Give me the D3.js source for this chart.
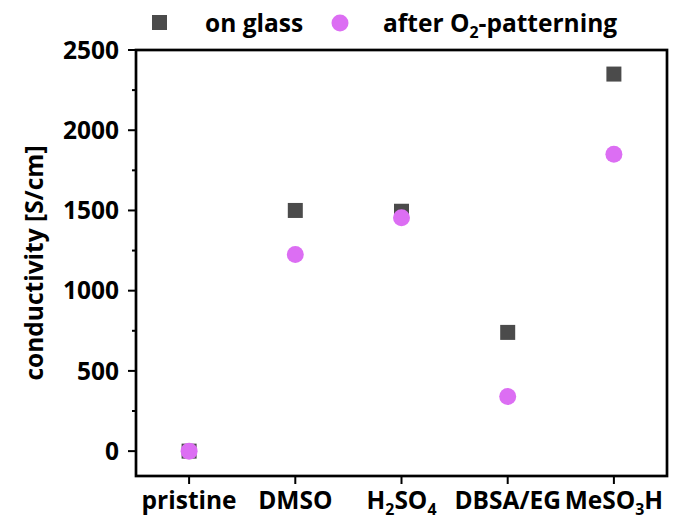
<!DOCTYPE html>
<html>
<head>
<meta charset="utf-8">
<script src="https://cdn.jsdelivr.net/npm/d3@7"></script>
<style>
  body { margin: 0; background: #fff; }
  svg { display: block; }
  text { font-family: "Open Sans", Lato, sans-serif; font-weight: 700; fill: #000; }
</style>
</head>
<body>
<svg id="chart" width="685" height="522"></svg>
<script>
const categories = ["pristine", "DMSO", "H2SO4", "DBSA/EG", "MeSO3H"];
const categoryLabels = [
  [["pristine", null]],
  [["DMSO", null]],
  [["H", null], ["2", "sub"], ["SO", null], ["4", "sub"]],
  [["DBSA/EG", null]],
  [["MeSO", null], ["3", "sub"], ["H", null]]
];
const onGlass = [0, 1500, 1495, 740, 2350];
const afterPatterning = [0, 1225, 1455, 340, 1850];
const yTicks = [0, 500, 1000, 1500, 2000, 2500];
const yMinorTicks = [250, 750, 1250, 1750, 2250];

(function () {
const squareColor = "#4b4b4b";
const circleColor = "#dc6ef3";

const svg = d3.select("#chart");
const mLeft = 136, mRight = 667, mTop = 50, mBottom = 476;
const fs = 24.5;

const x = d3.scaleLinear().domain([0.5, categories.length + 0.5]).range([mLeft, mRight]);
const y = d3.scaleLinear().domain([-155, 2500]).range([mBottom, mTop]);

// frame
svg.append("rect").attr("x", mLeft).attr("y", mTop).attr("width", mRight - mLeft).attr("height", mBottom - mTop)
  .attr("fill", "none").attr("stroke", "#000").attr("stroke-width", 2.7);

// y axis ticks
const yAxis = svg.append("g");
yAxis.selectAll("line.major").data(yTicks).join("line")
  .attr("class", "major")
  .attr("x1", mLeft - 8).attr("x2", mLeft).attr("y1", d => y(d)).attr("y2", d => y(d))
  .attr("stroke", "#000").attr("stroke-width", 2);
yAxis.selectAll("line.minor").data(yMinorTicks).join("line")
  .attr("class", "minor")
  .attr("x1", mLeft - 4).attr("x2", mLeft).attr("y1", d => y(d)).attr("y2", d => y(d))
  .attr("stroke", "#000").attr("stroke-width", 2);
yAxis.selectAll("text").data(yTicks).join("text")
  .attr("x", mLeft - 17).attr("y", d => y(d)).attr("dy", "0.36em")
  .attr("text-anchor", "end").attr("font-size", fs).text(d => d);

// x axis ticks
const xAxis = svg.append("g");
xAxis.selectAll("line").data(categories).join("line")
  .attr("x1", (d, i) => x(i + 1)).attr("x2", (d, i) => x(i + 1))
  .attr("y1", mBottom).attr("y2", mBottom + 8)
  .attr("stroke", "#000").attr("stroke-width", 2);
xAxis.selectAll("text").data(categoryLabels).join("text")
  .attr("x", (d, i) => x(i + 1)).attr("y", 509)
  .attr("text-anchor", "middle").attr("font-size", fs)
  .each(function(parts) {
    const t = d3.select(this);
    parts.forEach(([s, kind], j) => {
      const prev = j > 0 ? parts[j - 1][1] : null;
      const ts = t.append("tspan").text(s);
      if (kind === "sub") ts.attr("font-size", fs * 0.65).attr("dy", prev === "sub" ? 0 : 6);
      else if (prev === "sub") ts.attr("dy", -6);
    });
  });

// y axis title
svg.append("text")
  .attr("transform", `translate(43, ${(mTop + mBottom) / 2}) rotate(-90)`)
  .attr("text-anchor", "middle").attr("font-size", fs).text("conductivity [S/cm]");

// data: squares then circles
const sq = 15;
svg.append("g").selectAll("rect").data(onGlass).join("rect")
  .attr("x", (d, i) => x(i + 1) - sq / 2).attr("y", d => y(d) - sq / 2)
  .attr("width", sq).attr("height", sq).attr("fill", squareColor);
svg.append("g").selectAll("circle").data(afterPatterning).join("circle")
  .attr("cx", (d, i) => x(i + 1)).attr("cy", d => y(d)).attr("r", 8.5)
  .attr("fill", circleColor);

// legend
const lg = svg.append("g");
lg.append("rect").attr("x", 152).attr("y", 15).attr("width", sq).attr("height", sq).attr("fill", squareColor);
lg.append("text").attr("x", 205).attr("y", 32).attr("font-size", fs).text("on glass");
lg.append("circle").attr("cx", 340).attr("cy", 23).attr("r", 8.5).attr("fill", circleColor);
const lt = lg.append("text").attr("x", 383).attr("y", 32).attr("font-size", fs);
lt.append("tspan").text("after O");
lt.append("tspan").text("2").attr("font-size", fs * 0.65).attr("dy", 6);
lt.append("tspan").text("-patterning").attr("dy", -6);
})();
</script>
</body>
</html>
